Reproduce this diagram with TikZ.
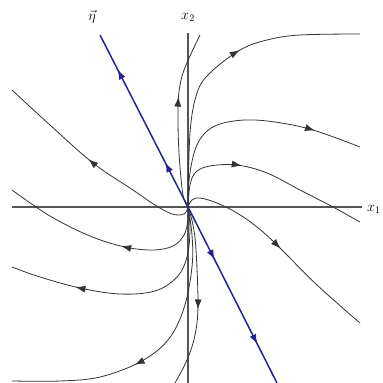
\documentclass[tikz,border=0pt]{standalone}
\usepackage{tikz}
\usetikzlibrary{arrows.meta, decorations.markings, positioning}
\definecolor{etablue}{RGB}{35, 35, 150}
\definecolor{axisgray}{RGB}{85, 85, 85}
\usepackage{amsmath, amssymb}

\tikzset{
  orbit/.style={line width=0.8pt, black!80},
  axisline/.style={line width=1.2pt, axisgray},
  flowtip/.style={postaction={decorate}, decoration={markings,
      mark=at position #1 with {\arrow{Latex[length=10pt,width=7pt]}}}},
  flowtips/.style 2 args={postaction={decorate}, decoration={markings,
      mark=at position #1 with {\arrow{Latex[length=10pt,width=7pt]}},
      mark=at position #2 with {\arrow{Latex[length=10pt,width=7pt]}}}},
}

\begin{document}
\begin{tikzpicture}[x=1pt, y=-1pt]
  \useasboundingbox (0,0) rectangle (383,383);

  % axes
  \coordinate (O) at (188,207);
  \coordinate (xleft) at (12,207);
  \coordinate (xright) at (362,207);
  \coordinate (ybot) at (188,383);
  \coordinate (ytop) at (188,33);
  \draw[axisline] (xleft) -- (xright);
  \draw[axisline] (ybot) -- (ytop);
  \node[font=\Large, inner sep=0pt, anchor=west] (xonelabel) at (367,209) {$x_1$};
  \node[font=\Large, inner sep=0pt] (xtwolabel) at (188,17) {$x_2$};

  % trajectories, all leaving the origin
  \draw[orbit, flowtip=0.59] plot[smooth, tension=0.6] coordinates
    {(O) (190,133) (197,93) (210,73) (240,50) (267,40) (300,35) (360,34)};
  \draw[orbit, flowtip=0.63] plot[smooth, tension=0.6] coordinates
    {(O) (183,195) (179,153) (178,110) (180,85) (186,65) (200,35)};
  \draw[orbit, flowtip=0.80] plot[smooth, tension=0.6] coordinates
    {(O) (189,180) (195,150) (205,133) (220,124) (245,120) (275,122) (313,130) (360,147)};
  \draw[orbit, flowtip=0.39] plot[smooth, tension=0.6] coordinates
    {(O) (190,185) (196,172) (210,166) (237,165) (267,173) (300,190) (333,207) (360,222)};
  \draw[orbit, flowtip=0.51] plot[smooth, tension=0.6] coordinates
    {(O) (192,200) (200,198) (217,203) (237,213) (257,227) (277,245) (317,285) (360,323)};
  \draw[orbit, flowtip=0.54] plot[smooth, tension=0.6] coordinates
    {(O) (184,214) (172,214) (155,205) (133,190) (93,163) (50,125) (12,90)};
  \draw[orbit, flowtip=0.44] plot[smooth, tension=0.6] coordinates
    {(O) (188,220) (184,235) (173,246) (153,250) (125,247) (90,236) (50,216) (12,190)};
  \draw[orbit, flowtip=0.73] plot[smooth, tension=0.6] coordinates
    {(O) (190,230) (187,257) (177,277) (155,291) (120,294) (80,288) (40,277) (12,267)};
  \draw[orbit, flowtip=0.59] plot[smooth, tension=0.6] coordinates
    {(O) (192,235) (192,267) (184,308) (168,340) (140,362) (100,377) (60,381) (12,381)};
  \draw[orbit, flowtip=0.57] plot[smooth, tension=0.6] coordinates
    {(O) (193,225) (196,250) (198,305) (195,335) (187,360) (175,383)};

  % eigenvector line
  \coordinate (etatop) at (100,35);
  \coordinate (etabot) at (277,383);
  \draw[etablue, line width=1.5pt, flowtips={0.26}{0.80}] (O) -- (etatop);
  \draw[etablue, line width=1.5pt, flowtips={0.30}{0.78}] (O) -- (etabot);
  \node[font=\Large, inner sep=0pt] (etalabel) at (92,17) {$\vec{\eta}$};
\end{tikzpicture}
\end{document}
